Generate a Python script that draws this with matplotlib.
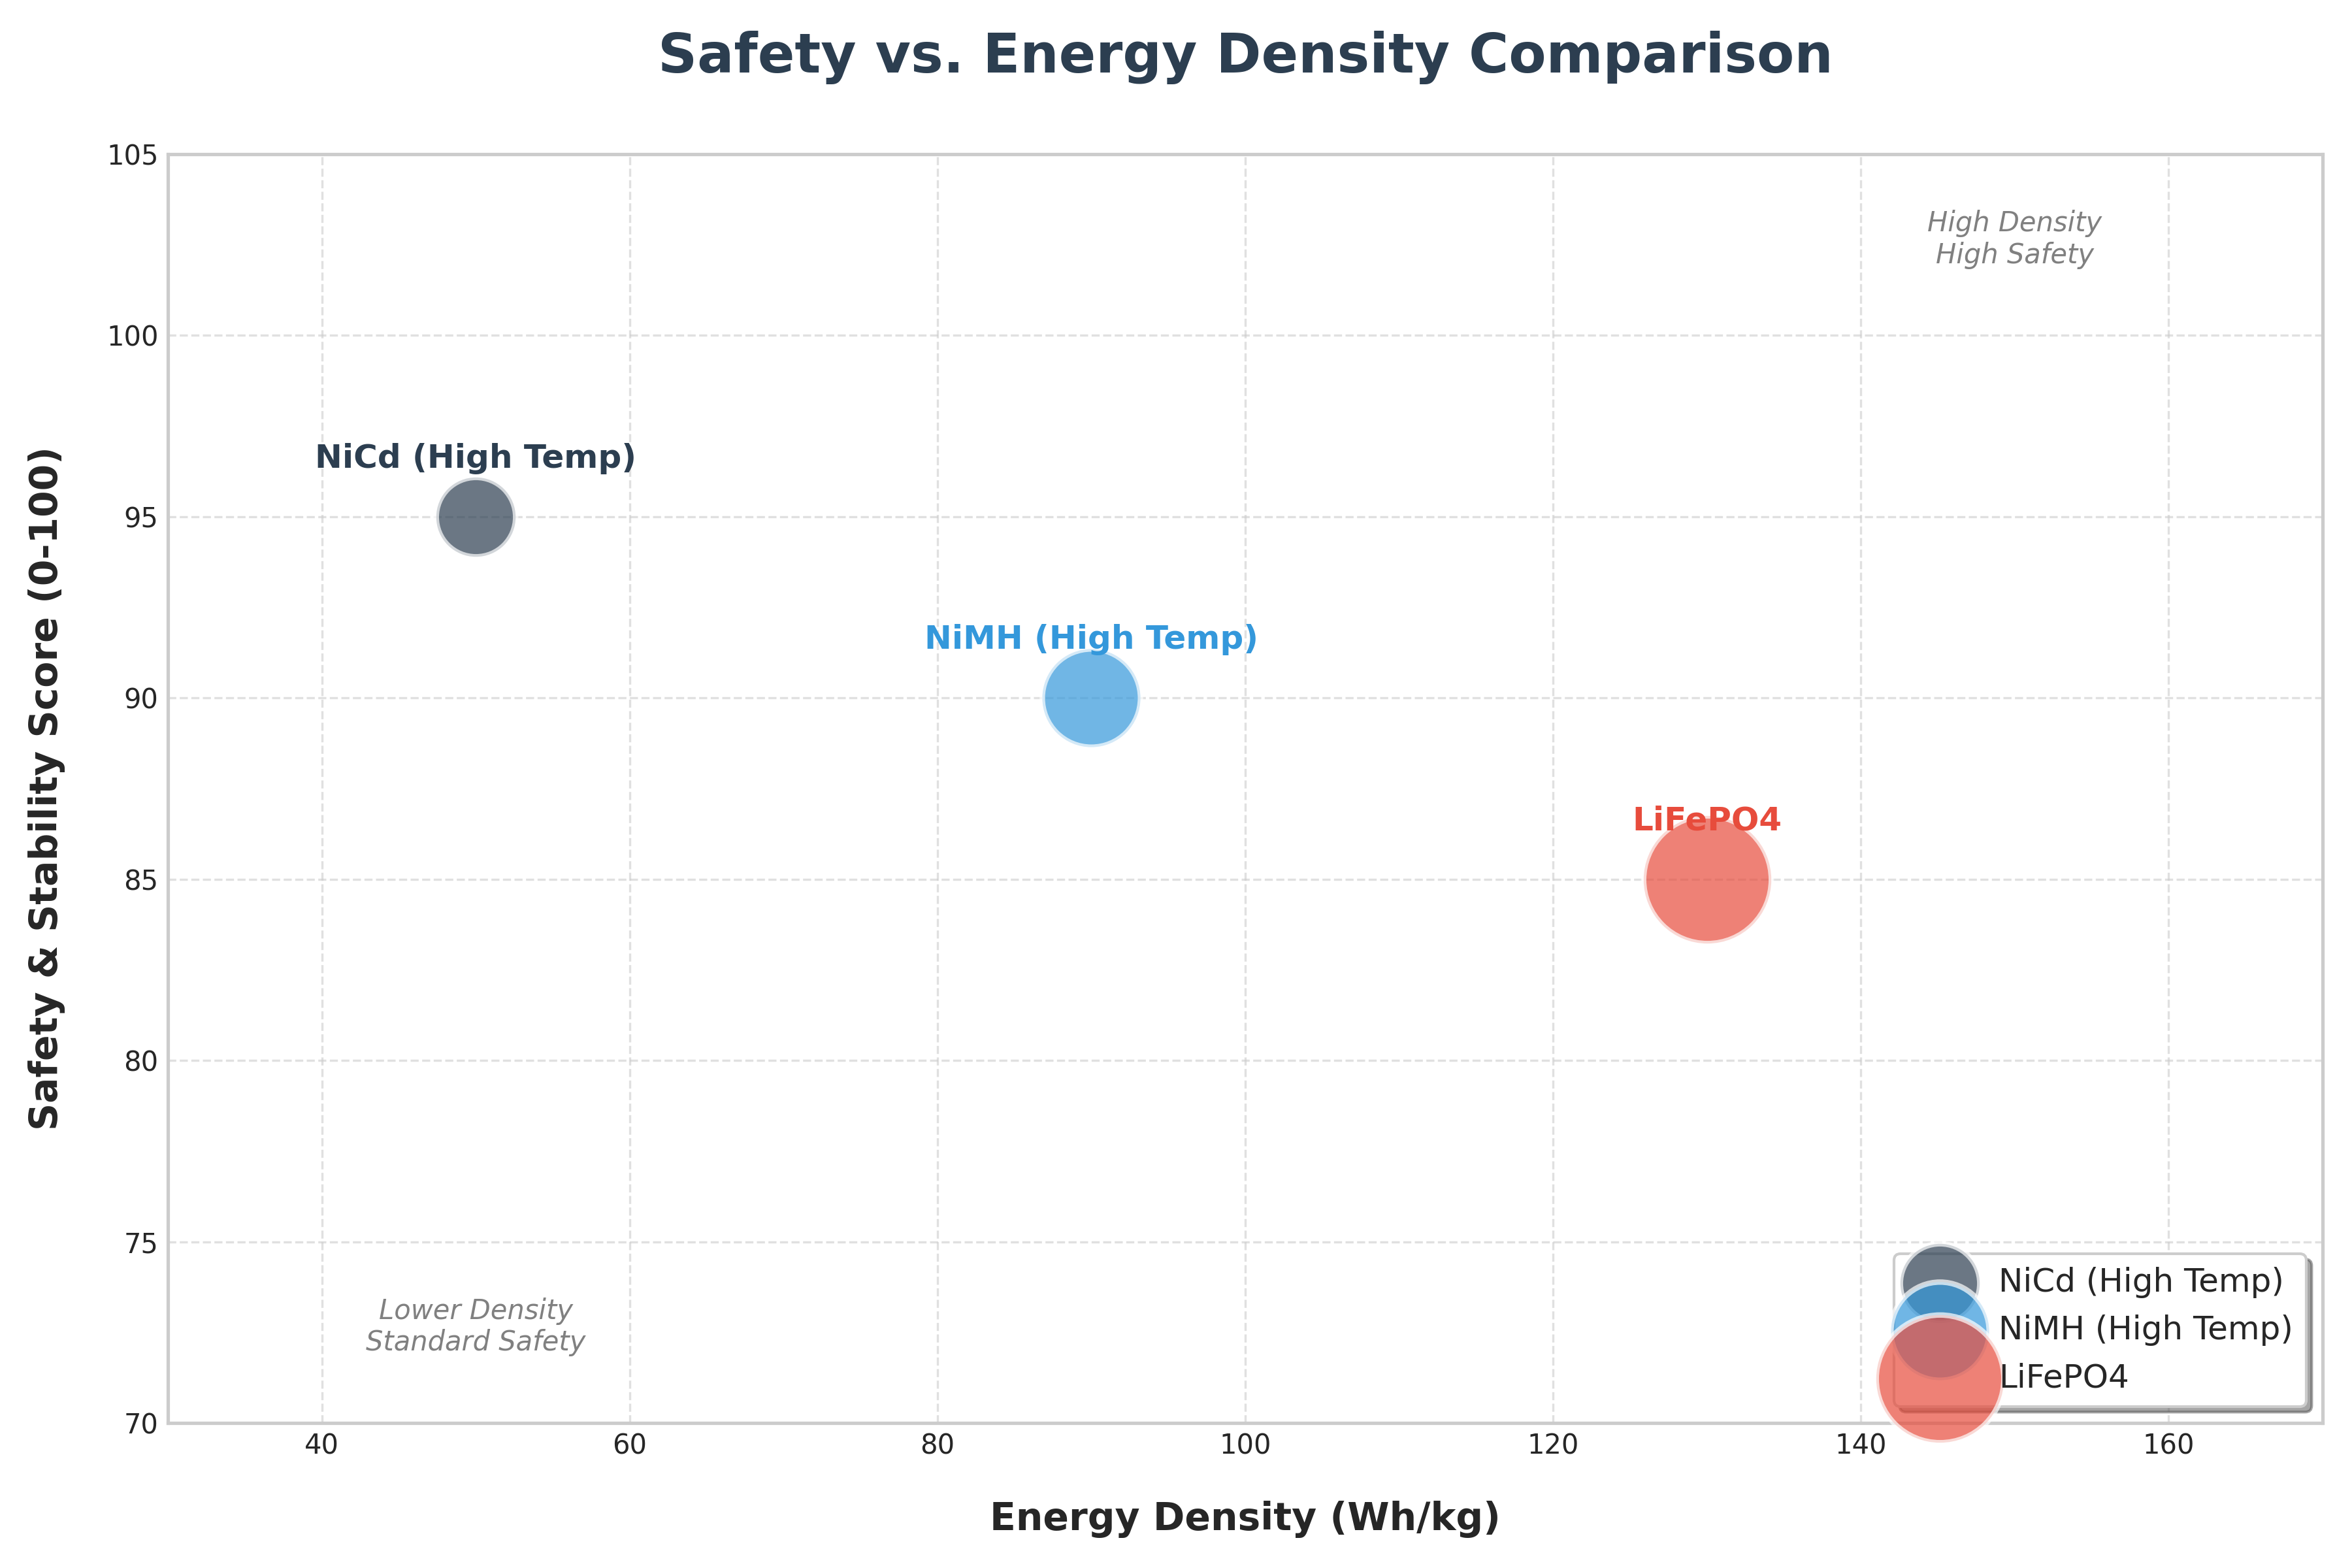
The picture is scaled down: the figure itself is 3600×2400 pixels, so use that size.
import matplotlib
matplotlib.use('Agg')
from matplotlib import pyplot as plt

chemistries = ['NiCd (High Temp)', 'NiMH (High Temp)', 'LiFePO4']
energy_density = [50, 90, 130]
safety_score = [95, 90, 85]
bubble_size = [850, 1300, 2200]
colors = ['#2c3e50', '#3498db', '#e74c3c']

plt.style.use('seaborn-v0_8-whitegrid')
plt.rcParams['font.family'] = ['DejaVu Sans']

fig = plt.figure(figsize=(12, 8), dpi=300)
ax = fig.add_axes([0.0714, 0.0925, 0.9161, 0.8092])

for name, x, y, s, c in zip(chemistries, energy_density, safety_score, bubble_size, colors):
    ax.scatter(x, y, s=s, c=c, alpha=0.7, edgecolors='white', linewidth=2, label=name, zorder=3)
    ax.text(x, y + 1.6, name, ha='center', va='center', fontsize=12,
            fontweight='bold', color=c, zorder=4)

ax.text(150, 102.65, 'High Density\nHigh Safety', ha='center', va='center',
        fontsize=10, style='italic', color='gray')
ax.text(50, 72.65, 'Lower Density\nStandard Safety', ha='center', va='center',
        fontsize=10, style='italic', color='gray')

ax.set_xlim(30, 170)
ax.set_ylim(70, 105)
ax.tick_params(labelsize=10)

ax.set_title('Safety vs. Energy Density Comparison', fontsize=20, fontweight='bold',
             color='#2c3e50', pad=30)
ax.set_xlabel('Energy Density (Wh/kg)', fontsize=14, fontweight='bold', labelpad=15)
ax.set_ylabel('Safety & Stability Score (0-100)', fontsize=14, fontweight='bold', labelpad=15)

ax.grid(True, linestyle='--', alpha=0.6)
for sp in ax.spines.values():
    sp.set_color('#cccccc')
    sp.set_linewidth(1.25)

ax.legend(loc='lower right', fontsize=12, frameon=True, fancybox=True, shadow=True)

fig.savefig('out.png', dpi=300)
